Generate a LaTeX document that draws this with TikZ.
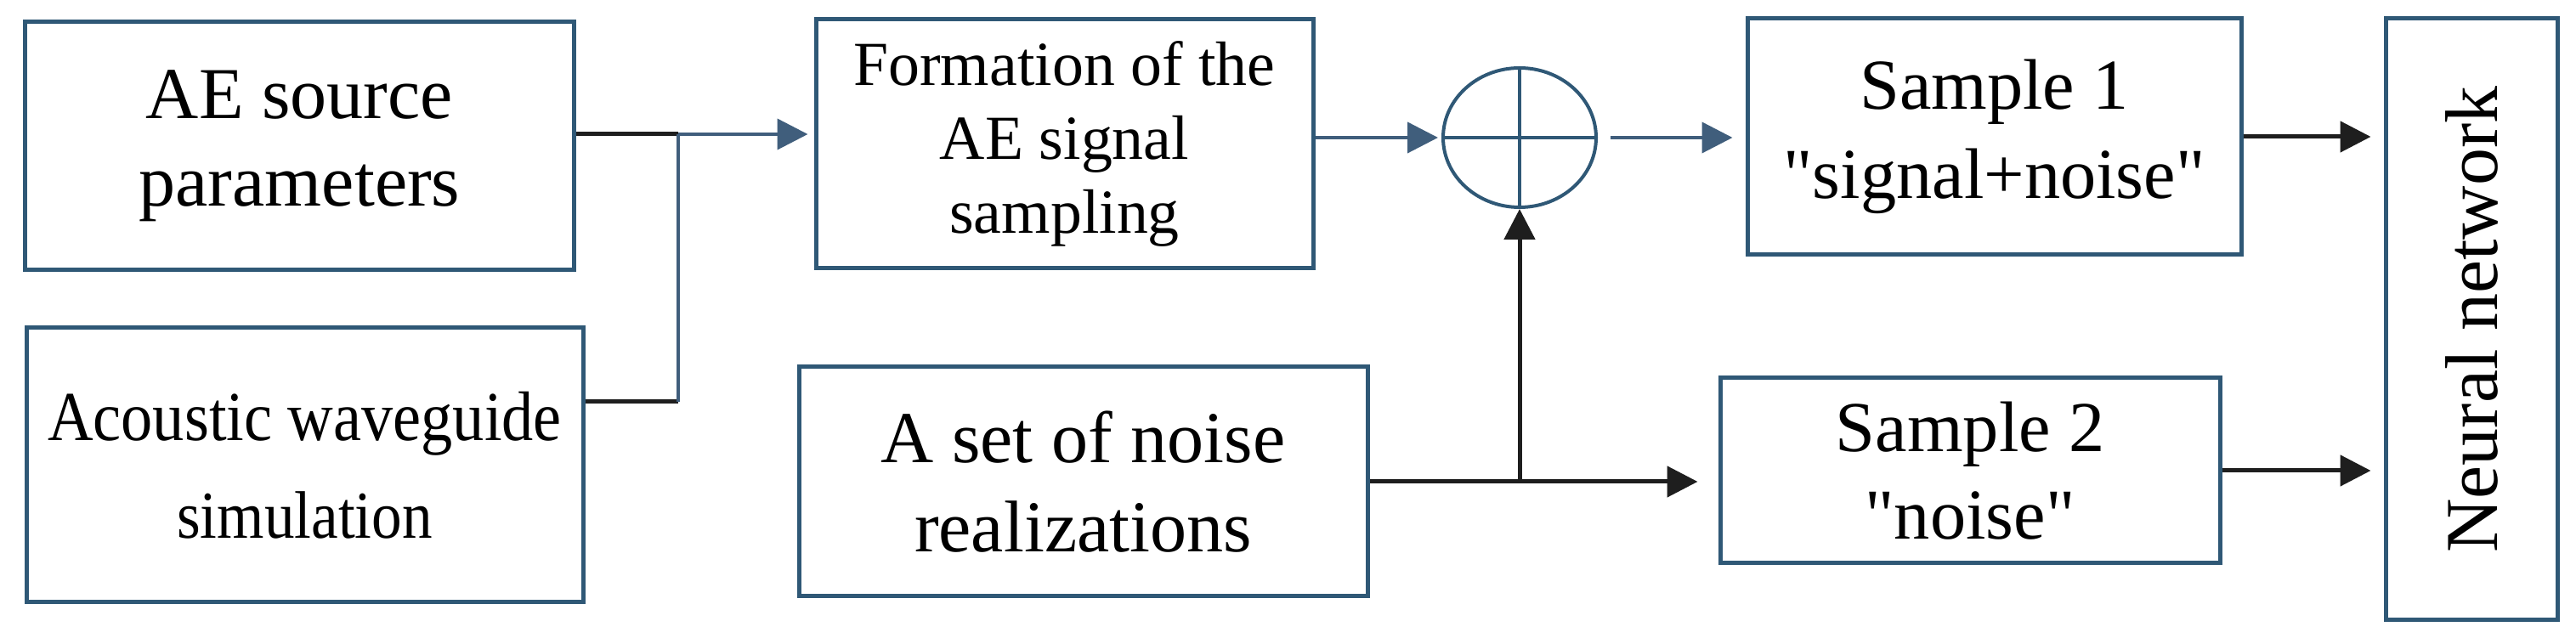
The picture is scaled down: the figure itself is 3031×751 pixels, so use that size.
\documentclass[tikz,border=0pt]{standalone}
\usepackage{fontspec}
\setmainfont{Liberation Serif}[Ligatures=TeXOff]
\newfontfamily\condfont{Liberation Serif}[FakeStretch=0.9,Ligatures=TeXOff]
\usetikzlibrary{arrows.meta,shapes.geometric,calc}
\definecolor{boxblue}{RGB}{47,88,118}
\definecolor{arrblue}{RGB}{64,94,124}
\definecolor{linegray}{RGB}{30,30,30}
\begin{document}
\begin{tikzpicture}[x=0.1mm,y=-0.1mm,
  blk/.style={draw=boxblue,line width=0.5mm,align=center,inner sep=0pt,rectangle},
  bline/.style={draw=linegray,line width=0.5mm},
  barr/.style={bline,-{Triangle[length=3.6mm,width=3.6mm]}},
  uline/.style={draw=arrblue,line width=0.42mm},
  uarr/.style={uline,-{Triangle[length=3.6mm,width=3.6mm]}},
  sumline/.style={draw=boxblue,line width=0.4mm}
]
\useasboundingbox (0,0) rectangle (3031,751);
% blocks
\node[blk,minimum width=64.6mm,minimum height=29.2mm,font=\fontsize{24.5pt}{29.3pt}\selectfont] (src) at (352.5,172) {AE source\\parameters};
\node[blk,minimum width=65.5mm,minimum height=32.3mm,font=\condfont\fontsize{23.5pt}{32.7pt}\selectfont] (wave) at (358.5,547.5) {Acoustic waveguide\\{\fontsize{22.5pt}{32.7pt}\selectfont simulation}};
\node[blk,minimum width=58.5mm,minimum height=29.3mm,font=\fontsize{21pt}{24.8pt}\selectfont] (form) at (1252.5,169.5) {Formation of the\\AE signal\\sampling};
\node[blk,minimum width=66.9mm,minimum height=27mm,font=\fontsize{24.5pt}{29.9pt}\selectfont] (noise) at (1274.5,567) {A set of noise\\realizations};
\node[blk,minimum width=58.1mm,minimum height=27.8mm,font=\fontsize{24pt}{29.9pt}\selectfont] (s1) at (2346.5,161) {Sample 1\\"signal+noise"};
\node[blk,minimum width=58.8mm,minimum height=21.8mm,font=\fontsize{24pt}{29.3pt}\selectfont] (s2) at (2318,554) {Sample 2\\"noise"};
\node[blk,minimum width=20.2mm,minimum height=70.8mm,font=\fontsize{25pt}{30pt}\selectfont] (nn) at (2908,376) {\rotatebox{90}{Neural network}};
% summing junction
\node[sumline,ellipse,minimum width=18mm,minimum height=16.4mm,inner sep=0pt] (sum) at (1788,162) {};
\draw[sumline] (sum.north) -- (sum.south) (sum.west) -- (sum.east);
% connectors
\coordinate (j1) at (798,158);
\coordinate (j1b) at (798,473);
\draw[bline] (src.east |- j1) -- (j1);
\draw[bline] (wave.east |- j1b) -- (j1b);
\draw[uline] (j1b) -- (j1);
\draw[uarr,shorten >=0.7mm] (j1) -- (j1 -| form.west);
\draw[uarr,shorten >=0.4mm] (form.east |- sum.west) -- (sum.west);
\draw[uarr,shorten <=1.5mm,shorten >=1.5mm] (sum.east) -- (sum.east -| s1.west);
\coordinate (j2) at (sum.south |- noise.east);
\draw[barr,shorten >=2.4mm] (noise.east) -- (noise.east -| s2.west);
\draw[barr] (j2) -- (sum.south);
\draw[barr,shorten >=1.5mm] (s1.east) -- (s1.east -| nn.west);
\draw[barr,shorten >=1.5mm] (s2.east) -- (s2.east -| nn.west);
\end{tikzpicture}
\end{document}
